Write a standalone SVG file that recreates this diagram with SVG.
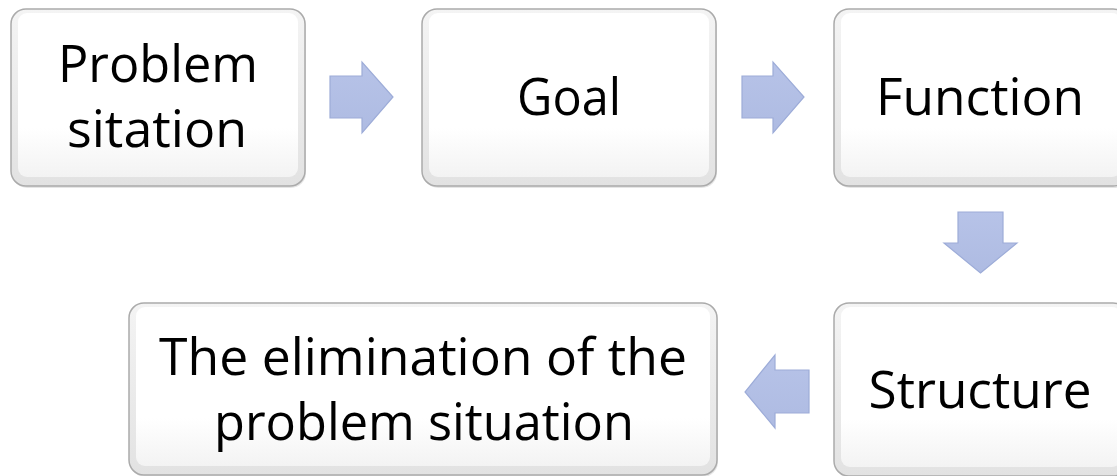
<svg xmlns="http://www.w3.org/2000/svg" width="1117" height="476" viewBox="0 0 1117 476">
<defs>
<linearGradient id="edge" x1="0" y1="0" x2="0" y2="1">
<stop offset="0" stop-color="#f4f4f4"/>
<stop offset="1" stop-color="#e2e2e2"/>
</linearGradient>
<linearGradient id="face" x1="0" y1="0" x2="0" y2="1">
<stop offset="0" stop-color="#ffffff"/>
<stop offset="0.7" stop-color="#ffffff"/>
<stop offset="1" stop-color="#f3f3f3"/>
</linearGradient>
<linearGradient id="arr" x1="0" y1="0" x2="0" y2="1">
<stop offset="0" stop-color="#b7c3e8"/>
<stop offset="1" stop-color="#aebbe2"/>
</linearGradient>
</defs>
<style>
.shadow{fill:#000;opacity:0.1}
.outer{fill:url(#edge);stroke:#ababab;stroke-width:1.5}
.inner{fill:url(#face);stroke:none}
.lbl{font-family:"Open Sans","Noto Sans","Liberation Sans",sans-serif;font-size:52px;fill:#000;text-anchor:middle}
.arrow{fill:url(#arr);stroke:#9dacd8;stroke-width:1.2;stroke-linejoin:miter}
</style>
<rect width="1117" height="476" fill="#ffffff"/>

<g id="node-problem">
<rect class="shadow" x="12" y="11" width="294" height="177" rx="15"/>
<rect class="outer" x="11" y="9" width="294" height="177" rx="15"/>
<rect class="inner" x="18" y="13" width="280" height="164" rx="9"/>
<text class="lbl" x="158" y="82" textLength="200" lengthAdjust="spacingAndGlyphs">Problem</text>
<text class="lbl" x="157" y="147" textLength="180" lengthAdjust="spacingAndGlyphs">sitation</text>
</g>

<g id="node-goal">
<rect class="shadow" x="423" y="11" width="294" height="177" rx="15"/>
<rect class="outer" x="422" y="9" width="294" height="177" rx="15"/>
<rect class="inner" x="429" y="13" width="280" height="164" rx="9"/>
<text class="lbl" x="569" y="115" textLength="104" lengthAdjust="spacingAndGlyphs">Goal</text>
</g>

<g id="node-function">
<rect class="shadow" x="835" y="11" width="294" height="177" rx="15"/>
<rect class="outer" x="834" y="9" width="294" height="177" rx="15"/>
<rect class="inner" x="841" y="13" width="280" height="164" rx="9"/>
<text class="lbl" x="980" y="115" textLength="208" lengthAdjust="spacingAndGlyphs">Function</text>
</g>

<g id="node-structure">
<rect class="shadow" x="835" y="305" width="294" height="173" rx="15"/>
<rect class="outer" x="834" y="303" width="294" height="173" rx="15"/>
<rect class="inner" x="841" y="307" width="280" height="160" rx="9"/>
<text class="lbl" x="980" y="408" textLength="223" lengthAdjust="spacingAndGlyphs">Structure</text>
</g>

<g id="node-elimination">
<rect class="shadow" x="130" y="305" width="588" height="172" rx="15"/>
<rect class="outer" x="129" y="303" width="588" height="172" rx="15"/>
<rect class="inner" x="136" y="307" width="574" height="159" rx="9"/>
<text class="lbl" x="423" y="375" textLength="528" lengthAdjust="spacingAndGlyphs">The elimination of the</text>
<text class="lbl" x="424" y="440" textLength="420" lengthAdjust="spacingAndGlyphs">problem situation</text>
</g>

<g id="connectors">
<path class="arrow" d="M330,76 H362 V62 L393,97 L362,133 V118 H330 Z"/>
<path class="arrow" d="M742,76 H773 V62 L804,97 L773,133 V118 H742 Z"/>
<path class="arrow" d="M958,212 H1003 V243 H1017 L980.5,273 L944,243 H958 Z"/>
<path class="arrow" d="M809,370 H775 V355 L745,392 L775,428 V413 H809 Z"/>
</g>
</svg>
